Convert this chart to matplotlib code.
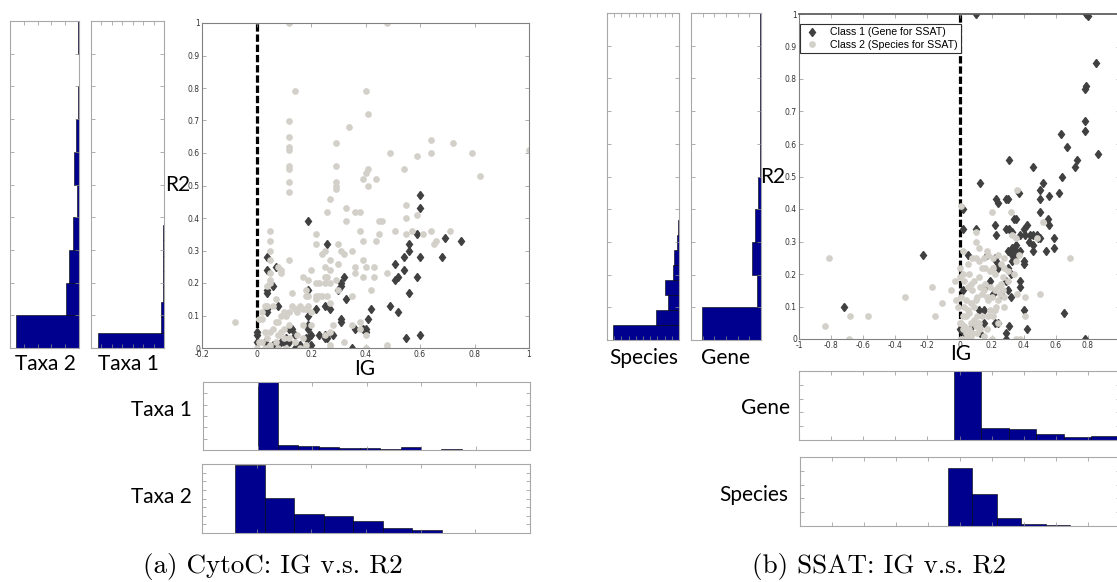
import matplotlib
matplotlib.use("Agg")
import matplotlib.pyplot as plt
import numpy as np

# ---------------- data: panel (a) CytoC ----------------
a_c1_ig = [0.19, 0.60, 0.60, 0.59, 0.69, 0.75, 0.56, 0.26, 0.56, 0.54, 0.60, 0.68, 0.04, 0.51, 0.54,
           0.07, 0.04, 0.52, 0.51, 0.59, 0.32, 0.31, 0.31, 0.30, 0.06, 0.04, 0.04, 0.19, 0.56, 0.33,
           0.08, 0.25, 0.27, 0.42, 0.49, 0.52, 0.04, 0.04, 0.19, 0.22, 0.31, 0.31, 0.41, 0.12, 0.13,
           0.19, 0.19, 0.40, 0.39, 0.40, 0.36, 0.00, 0.00, 0.14, 0.20, 0.23, 0.25, 0.26, 0.28, 0.25,
           0.19, 0.18, 0.10, 0.06, 0.03, 0.08, 0.11, 0.14, 0.16, 0.20, 0.35, 0.55, 0.60, 0.12, 0.05,
           0.09, 0.00]
a_c1_r2 = [0.39, 0.47, 0.43, 0.35, 0.34, 0.33, 0.32, 0.32, 0.30, 0.28, 0.28, 0.28, 0.28, 0.26, 0.24,
           0.25, 0.24, 0.22, 0.21, 0.22, 0.22, 0.20, 0.19, 0.18, 0.19, 0.18, 0.17, 0.18, 0.17, 0.15,
           0.13, 0.13, 0.12, 0.12, 0.13, 0.11, 0.11, 0.12, 0.10, 0.12, 0.09, 0.08, 0.09, 0.06, 0.06,
           0.06, 0.07, 0.06, 0.06, 0.05, 0.06, 0.05, 0.04, 0.04, 0.04, 0.04, 0.04, 0.03, 0.04, 0.03,
           0.03, 0.03, 0.02, 0.01, 0.02, 0.01, 0.03, 0.00, 0.01, 0.01, 0.00, 0.03, 0.04, 0.02, 0.00,
           0.02, 0.02]

a_c2_ig = [0.12, 0.48, 0.14, 0.40, 0.41, 0.12, 0.34, 0.12, 0.12, 0.12, 0.29, 0.72, 0.64, 0.64, 0.49,
           0.59, 0.79, 1.00, 0.12, 0.12, 0.12, 0.12, 0.29, 0.29, 0.29, 0.29, 0.40, 0.41, 0.39, 0.41,
           0.44, 0.54, 0.82, 0.27, 0.55, 0.33, 0.26, 0.36, 0.38, 0.55, 0.59, 0.45, 0.46, 0.33, 0.05,
           0.38, 0.51, 0.57, 0.64, 0.71, 0.55, 0.61, 0.45, 0.22, 0.66, 0.65, 0.05, 0.39, 0.44, 0.22,
           0.30, 0.31, 0.32, 0.35, 0.24, 0.25, 0.05, 0.12, 0.05, 0.27, 0.39, 0.40, 0.43, 0.36, 0.25,
           0.30, 0.27, 0.09, 0.08, 0.20, 0.19, 0.05, 0.05, 0.05, 0.04, 0.07, 0.09, 0.36, 0.43, 0.39,
           0.25, 0.26, 0.17, 0.48, 0.42, 0.35, 0.22, 0.23, 0.25, 0.27, 0.29, 0.30, 0.23, 0.22, 0.24,
           0.26, 0.18, 0.18, 0.19, 0.22, 0.27, 0.13, 0.13, 0.14, 0.15, 0.16, 0.17, 0.18, 0.15, 0.12,
           0.10, 0.11, 0.09, 0.08, 0.07, 0.19, 0.20, 0.20, 0.17, 0.12, 0.10, 0.06, 0.05, 0.09, 0.03,
           0.06, 0.04, 0.03, 0.02, 0.02, 0.01, -0.08, 0.00, 0.02, 0.04, 0.05, 0.07, 0.08, 0.10, 0.12,
           0.14, 0.15, 0.17, 0.18, 0.11, 0.08, 0.05, 0.16, 0.27, 0.27, 0.32, 0.25, 0.28, 0.35, 0.38,
           0.40, 0.40, 0.48, 0.48, 0.01, 0.03, 0.27, 0.38]
a_c2_r2 = [1.00, 1.00, 0.79, 0.79, 0.72, 0.70, 0.68, 0.65, 0.62, 0.61, 0.63, 0.63, 0.64, 0.60, 0.60,
           0.59, 0.60, 0.61, 0.56, 0.55, 0.51, 0.48, 0.56, 0.51, 0.50, 0.49, 0.54, 0.55, 0.52, 0.50,
           0.52, 0.55, 0.53, 0.46, 0.44, 0.43, 0.42, 0.42, 0.42, 0.40, 0.41, 0.39, 0.39, 0.39, 0.36,
           0.36, 0.36, 0.36, 0.36, 0.36, 0.35, 0.35, 0.35, 0.35, 0.33, 0.32, 0.33, 0.33, 0.33, 0.32,
           0.32, 0.30, 0.29, 0.30, 0.29, 0.30, 0.30, 0.27, 0.27, 0.27, 0.27, 0.25, 0.25, 0.25, 0.25,
           0.26, 0.24, 0.24, 0.25, 0.24, 0.21, 0.23, 0.21, 0.20, 0.19, 0.15, 0.23, 0.23, 0.22, 0.22,
           0.22, 0.22, 0.22, 0.23, 0.18, 0.16, 0.20, 0.20, 0.20, 0.20, 0.21, 0.18, 0.16, 0.16, 0.16,
           0.16, 0.18, 0.16, 0.16, 0.15, 0.14, 0.17, 0.13, 0.12, 0.12, 0.13, 0.12, 0.12, 0.11, 0.11,
           0.11, 0.10, 0.10, 0.08, 0.08, 0.13, 0.11, 0.07, 0.07, 0.07, 0.06, 0.06, 0.05, 0.05, 0.05,
           0.13, 0.13, 0.13, 0.11, 0.09, 0.09, 0.08, 0.00, 0.02, 0.03, 0.01, 0.02, 0.04, 0.03, 0.03,
           0.02, 0.04, 0.03, 0.01, 0.00, 0.00, 0.00, 0.00, 0.00, 0.01, 0.02, 0.04, 0.07, 0.07, 0.08,
           0.04, 0.00, 0.01, 0.00, 0.02, 0.00, 0.05, 0.06]

# histograms (a)
a_r2_taxa2_edges = [0.0, 0.1, 0.2, 0.3, 0.4, 0.5, 0.6, 0.7, 0.8, 0.9, 1.0]
a_r2_taxa2_counts = [46, 9.7, 7.0, 4.6, 1.7, 3.6, 1.9, 0.7, 0.0, 0.4]
a_r2_taxa1_edges = [0.0, 0.047, 0.094, 0.141, 0.188, 0.235, 0.282, 0.329, 0.376, 0.423, 0.47]
a_r2_taxa1_counts = [63.6, 2.5, 2.5, 1.3, 1.3, 1.3, 0.6, 0.6, 0.3, 0.3]
a_ig_taxa1_edges = [0.0, 0.075, 0.15, 0.225, 0.30, 0.375, 0.45, 0.525, 0.60, 0.675, 0.75]
a_ig_taxa1_counts = [60, 4.4, 3.5, 3.0, 2.0, 1.5, 1.2, 3.0, 0.0, 0.6]
a_ig_taxa2_edges = [-0.078, 0.030, 0.138, 0.245, 0.353, 0.461, 0.569, 0.677, 0.784, 0.892, 1.0]
a_ig_taxa2_counts = [79, 41, 22, 20, 14, 5.5, 4.0, 0.4, 0.4, 0.4]

# ---------------- data: panel (b) SSAT ----------------
b_c1_ig = [0.10, 0.79, 0.80, 0.85, 0.79, 0.78, 0.78, 0.78, 0.86, 0.63, 0.67, 0.73, 0.72, 0.64, 0.31,
           0.46, 0.52, 0.50, 0.13, 0.62, 0.56, 0.37, 0.50, 0.23, 0.24, 0.29, 0.30, 0.02, 0.50, 0.55,
           0.34, 0.35, 0.56, 0.42, 0.22, 0.02, 0.10, 0.29, 0.31, 0.40, 0.33, 0.44, 0.46, 0.48, 0.49,
           0.50, 0.59, 0.38, 0.23, 0.41, 0.43, 0.46, 0.35, 0.34, 0.33, 0.35, 0.32, 0.30, 0.38, 0.46,
           0.54, 0.59, 0.33, 0.34, 0.33, 0.17, 0.22, 0.23, 0.05, -0.23, 0.40, 0.40, 0.24, 0.30, 0.32,
           0.29, 0.38, 0.38, 0.19, 0.30, 0.02, 0.32, 0.21, 0.40, 0.15, 0.22, 0.24, 0.15, 0.31, 0.29,
           0.29, 0.42, 0.65, 0.78, -0.72, 0.00, 0.08, 0.12, 0.26, 0.16, 0.03, 0.13]
b_c1_r2 = [1.00, 1.00, 0.995, 0.85, 0.78, 0.77, 0.67, 0.64, 0.57, 0.63, 0.59, 0.55, 0.53, 0.50, 0.55,
           0.53, 0.48, 0.46, 0.48, 0.45, 0.44, 0.45, 0.43, 0.43, 0.42, 0.43, 0.43, 0.40, 0.39, 0.37,
           0.37, 0.37, 0.35, 0.35, 0.35, 0.34, 0.34, 0.34, 0.34, 0.34, 0.33, 0.32, 0.32, 0.32, 0.31,
           0.31, 0.31, 0.32, 0.32, 0.32, 0.30, 0.29, 0.29, 0.28, 0.28, 0.27, 0.27, 0.27, 0.27, 0.27,
           0.27, 0.28, 0.26, 0.25, 0.24, 0.26, 0.25, 0.24, 0.26, 0.26, 0.24, 0.23, 0.22, 0.22, 0.20,
           0.18, 0.18, 0.16, 0.18, 0.15, 0.15, 0.13, 0.14, 0.09, 0.09, 0.05, 0.05, 0.05, 0.04, 0.02,
           0.00, 0.03, 0.08, 0.00, 0.10, 0.03, 0.04, 0.09, 0.14, 0.16, 0.02, 0.02]

b_c2_ig = [-0.81, -0.84, -0.69, -0.68, -0.57, -0.34, -0.17, -0.15, -0.11, -0.05, -0.03, -0.02, -0.01, 0.00, 0.00,
           0.36, 0.20, 0.32, 0.10, 0.33, 0.35, 0.48, 0.52, 0.69, 0.50, 0.41, 0.41, 0.35, 0.38, 0.10,
           0.12, 0.17, 0.18, 0.08, 0.10, 0.12, 0.15, 0.21, 0.14, 0.16, 0.19, 0.21, 0.22, 0.26, 0.28,
           0.27, 0.26, 0.30, 0.25, 0.24, 0.20, 0.18, 0.17, 0.15, 0.14, 0.11, 0.10, 0.09, 0.07, 0.06,
           0.05, 0.04, 0.03, 0.02, 0.01, 0.03, 0.02, 0.04, 0.06, 0.05, 0.07, 0.08, 0.10, 0.09, 0.11,
           0.12, 0.14, 0.13, 0.15, 0.17, 0.18, 0.19, 0.21, 0.22, 0.23, 0.24, 0.20, 0.03, 0.01, 0.05,
           0.07, 0.09, 0.12, 0.13, 0.16, 0.19, 0.22, 0.24, 0.27, 0.28, 0.03, 0.06, 0.08, 0.01, 0.02,
           0.24, 0.35, 0.37, 0.34, 0.36, 0.28, 0.04, 0.11, 0.28, 0.30, 0.05, 0.01, 0.02, 0.00, 0.07]
b_c2_r2 = [0.25, 0.04, 0.00, 0.07, 0.07, 0.13, 0.16, 0.07, 0.11, 0.15, 0.18, 0.12, 0.10, 0.22, 0.19,
           0.46, 0.39, 0.39, 0.33, 0.32, 0.31, 0.31, 0.36, 0.25, 0.14, 0.13, 0.07, 0.00, 0.00, 0.30,
           0.28, 0.27, 0.26, 0.25, 0.25, 0.24, 0.25, 0.25, 0.22, 0.22, 0.21, 0.22, 0.20, 0.23, 0.22,
           0.19, 0.17, 0.18, 0.14, 0.12, 0.13, 0.12, 0.13, 0.15, 0.14, 0.13, 0.12, 0.10, 0.11, 0.08,
           0.09, 0.12, 0.10, 0.07, 0.05, 0.04, 0.03, 0.02, 0.03, 0.01, 0.01, 0.02, 0.04, 0.06, 0.07,
           0.05, 0.07, 0.03, 0.01, 0.03, 0.07, 0.09, 0.07, 0.09, 0.10, 0.05, 0.00, 0.00, 0.00, 0.16,
           0.17, 0.18, 0.19, 0.16, 0.17, 0.16, 0.15, 0.16, 0.15, 0.13, 0.18, 0.20, 0.15, 0.13, 0.20,
           0.26, 0.24, 0.26, 0.20, 0.14, 0.10, 0.07, 0.02, 0.25, 0.21, 0.23, 0.41, 0.27, 0.05, 0.05]

# histograms (b)
b_r2_species_edges = [0.0, 0.046, 0.092, 0.138, 0.184, 0.23, 0.276, 0.322, 0.368, 0.414, 0.46]
b_r2_species_counts = [92, 32, 15.6, 18.8, 8.7, 6.9, 2.8, 0.9, 0.5, 0.5]
b_r2_gene_edges = [0.0, 0.1, 0.2, 0.3, 0.4, 0.5, 0.6, 0.7, 0.8, 0.9, 1.0]
b_r2_gene_counts = [50.2, 3.4, 8.0, 5.2, 2.9, 0.6, 0.6, 0.6, 0.6, 0.6]
b_ig_gene_edges = [-0.72, -0.549, -0.378, -0.207, -0.036, 0.135, 0.306, 0.477, 0.648, 0.819, 0.99]
b_ig_gene_counts = [0.3, 0.0, 0.3, 0.0, 50, 8.6, 8.1, 4.2, 2.0, 3.0]
b_ig_species_edges = [-0.84, -0.687, -0.534, -0.381, -0.228, -0.075, 0.078, 0.231, 0.384, 0.537, 0.69]
b_ig_species_counts = [0.3, 0.3, 0.0, 0.3, 0.3, 42, 23.4, 5.6, 1.2, 0.5]

legend_labels = ["Class 1 (Gene for SSAT)", "Class 2 (Species for SSAT)"]
captions = ["(a) CytoC: IG v.s. R2", "(b) SSAT: IG v.s. R2"]

# ---------------- style ----------------
W, H = 1117, 582
BAR = (0.0, 0.0, 0.56)
C1 = "#404040"
C2 = "#d3cfc9"
FRAME = "#a8a8a8"
LABEL_FONT = ["Lato", "DejaVu Sans"]

fig = plt.figure(figsize=(W / 100, H / 100), dpi=100)


def ax_px(l, t, r, b):
    return fig.add_axes([l / W, 1 - b / H, (r - l) / W, (b - t) / H])


def style_ticks(ax, frame=FRAME, labels=False):
    for s in ax.spines.values():
        s.set_color(frame)
        s.set_linewidth(0.8)
    ax.tick_params(direction="in", length=3, width=0.5, color="#909090",
                   top=True, right=True, labelsize=5.5, labelcolor="#333333",
                   pad=1.5)
    if not labels:
        ax.tick_params(labelbottom=False, labelleft=False)


def vhist(ax, edges, counts, xmax, step):
    edges = np.asarray(edges)
    ax.barh(edges[:-1], counts, height=np.diff(edges), align="edge",
            color=BAR, edgecolor="black", linewidth=0.4)
    ax.set_xlim(xmax, 0)
    ax.set_ylim(0, 1)
    ax.set_xticks(np.arange(0, xmax + 0.01, step))
    ax.set_yticks(np.arange(0, 1.01, 0.1))
    style_ticks(ax)


def hhist(ax, edges, counts, xlim, xstep, ymax, ystep):
    edges = np.asarray(edges)
    ax.bar(edges[:-1], counts, width=np.diff(edges), align="edge",
           color=BAR, edgecolor="black", linewidth=0.4)
    ax.set_xlim(*xlim)
    ax.set_ylim(0, ymax)
    ax.set_xticks(np.arange(xlim[0], xlim[1] + 0.001, xstep))
    ax.set_yticks(np.arange(0, ymax + 0.01, ystep))
    style_ticks(ax)


def scatter(ax, ig1, r21, ig2, r22, xlim, xticks):
    ax.plot(ig1, r21, linestyle="none", marker="d", ms=4.3, color=C1, mec=C1, label=legend_labels[0])
    ax.plot(ig2, r22, linestyle="none", marker="o", ms=3.8, color=C2, mec=C2, label=legend_labels[1])
    ax.axvline(0, color="black", linestyle=(0, (2.3, 0.9)), linewidth=2.3, zorder=1)
    ax.set_xlim(*xlim)
    ax.set_ylim(0, 1)
    ax.set_xticks(xticks)
    ax.set_xticklabels([("%g" % v) for v in xticks])
    ax.set_yticks(np.arange(0, 1.01, 0.1))
    ax.set_yticklabels([("%g" % round(v, 1)) for v in np.arange(0, 1.01, 0.1)])
    style_ticks(ax, frame="#808080", labels=True)


# ---------------- panel (a) ----------------
ax = ax_px(10, 21, 79, 348)
vhist(ax, a_r2_taxa2_edges, a_r2_taxa2_counts, 50, 10)
ax = ax_px(91, 21, 164, 348)
vhist(ax, a_r2_taxa1_edges, a_r2_taxa1_counts, 70, 10)

ax = ax_px(202, 23, 529, 348)
scatter(ax, a_c1_ig, a_c1_r2, a_c2_ig, a_c2_r2, (-0.2, 1.0), [-0.2, 0, 0.2, 0.4, 0.6, 0.8, 1])

ax = ax_px(203, 382, 530, 450)
hhist(ax, a_ig_taxa1_edges, a_ig_taxa1_counts, (-0.2, 1.0), 0.2, 60, 10)
ax = ax_px(202, 464, 530, 533)
hhist(ax, a_ig_taxa2_edges, a_ig_taxa2_counts, (-0.2, 1.0), 0.2, 80, 10)

# ---------------- panel (b) ----------------
ax = ax_px(607, 13, 679, 340)
vhist(ax, b_r2_species_edges, b_r2_species_counts, 100, 10)
ax = ax_px(691, 13, 761, 340)
vhist(ax, b_r2_gene_edges, b_r2_gene_counts, 60, 10)

axb = ax_px(799, 14, 1120, 339)
scatter(axb, b_c1_ig, b_c1_r2, b_c2_ig, b_c2_r2, (-1.0, 1.0),
        [-1, -0.8, -0.6, -0.4, -0.2, 0, 0.2, 0.4, 0.6, 0.8])
axb.spines["top"].set_color("#606060")
axb.spines["top"].set_linewidth(1.3)
leg = axb.legend(loc="upper left", bbox_to_anchor=(0.004, 0.969), borderaxespad=0,
                 frameon=True, fancybox=False, framealpha=1,
                 edgecolor="#303030", handlelength=1.6, handletextpad=0.9,
                 borderpad=0.3, labelspacing=0.25, markerscale=1.0,
                 prop={"family": ["Liberation Sans", "DejaVu Sans"], "size": 7.6})
leg.get_frame().set_linewidth(0.8)

ax = ax_px(799, 371, 1120, 440)
hhist(ax, b_ig_gene_edges, b_ig_gene_counts, (-1.0, 1.0), 0.2, 50, 10)
ax = ax_px(800, 457, 1120, 526)
hhist(ax, b_ig_species_edges, b_ig_species_counts, (-1.0, 1.0), 0.2, 50, 10)

# ---------------- labels ----------------
def label(x, y, s, ha="center", size=15):
    fig.text(x / W, 1 - y / H, s, ha=ha, va="center", fontsize=size, family=LABEL_FONT)

label(45, 364, "Taxa 2")
label(128, 364, "Taxa 1")
label(165, 185, "R2", ha="left")
label(365, 369, "IG")
label(192, 410, "Taxa 1", ha="right")
label(192, 497, "Taxa 2", ha="right")

label(644, 358, "Species")
label(726, 358, "Gene")
label(760, 177, "R2", ha="left")
label(961, 354, "IG")
label(790, 408, "Gene", ha="right")
label(788, 495, "Species", ha="right")

fig.text(273 / W, 1 - 566 / H, captions[0], ha="center", va="center", fontsize=19.5, family="cmr10")
fig.text(879 / W, 1 - 566 / H, captions[1], ha="center", va="center", fontsize=19.5, family="cmr10")

fig.savefig("out.png", dpi=100)
